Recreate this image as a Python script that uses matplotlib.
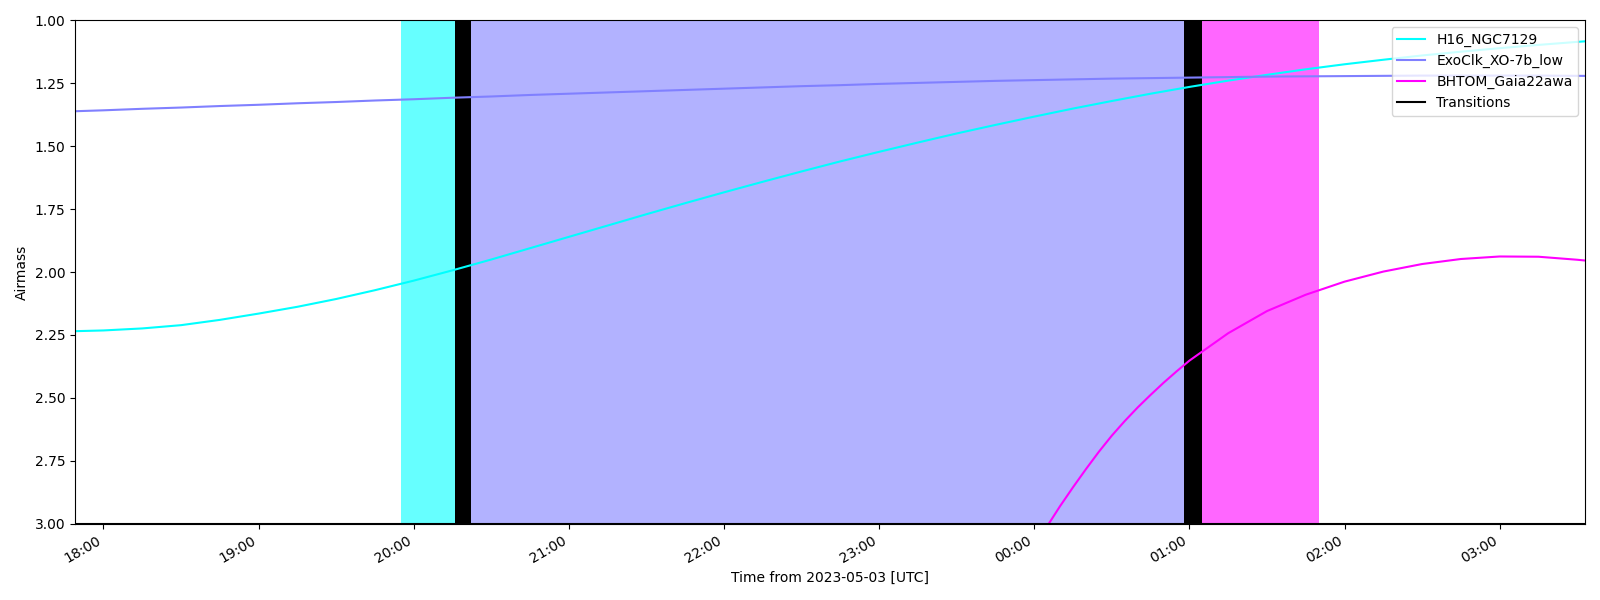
import numpy as np
import pandas as pd
import matplotlib
matplotlib.use("Agg")
import matplotlib.pyplot as plt
import matplotlib.dates as mdates

# 15-minute sampling grid, 2023-05-03 17:45 -> 2023-05-04 03:45 UTC
times = pd.date_range("2023-05-03 17:45", "2023-05-04 03:45", freq="15min")

h16_ngc7129 = [
    2.236, 2.232, 2.224, 2.211, 2.190, 2.165, 2.138, 2.107, 2.072, 2.034,
    1.993, 1.950, 1.905, 1.860, 1.815, 1.770, 1.726, 1.683, 1.641, 1.600,
    1.560, 1.522, 1.485, 1.449, 1.415, 1.382, 1.350, 1.320, 1.291, 1.264,
    1.239, 1.216, 1.194, 1.174, 1.156, 1.139, 1.124, 1.110, 1.097, 1.085,
    1.074,
]
exoclk_xo7b = [
    1.362, 1.357, 1.351, 1.346, 1.340, 1.335, 1.329, 1.324, 1.318, 1.313,
    1.307, 1.302, 1.296, 1.291, 1.286, 1.281, 1.276, 1.271, 1.266, 1.261,
    1.257, 1.252, 1.248, 1.244, 1.240, 1.237, 1.234, 1.231, 1.229, 1.227,
    1.225, 1.223, 1.222, 1.221, 1.220, 1.219, 1.219, 1.219, 1.219, 1.220,
    1.221,
]

# Gaia22awa rises late: 5-min samples while steep, then 15-min
gaia_times = pd.to_datetime([
    "2023-05-04 00:00", "2023-05-04 00:05", "2023-05-04 00:10", "2023-05-04 00:15",
    "2023-05-04 00:20", "2023-05-04 00:25", "2023-05-04 00:30", "2023-05-04 00:35",
    "2023-05-04 00:40", "2023-05-04 00:45", "2023-05-04 00:50", "2023-05-04 00:55",
    "2023-05-04 01:00", "2023-05-04 01:15", "2023-05-04 01:30", "2023-05-04 01:45",
    "2023-05-04 02:00", "2023-05-04 02:15", "2023-05-04 02:30", "2023-05-04 02:45",
    "2023-05-04 03:00", "2023-05-04 03:15", "2023-05-04 03:30", "2023-05-04 03:45",
])
bhtom_gaia22awa = [
    3.10, 3.01, 2.93, 2.855, 2.783, 2.714, 2.650, 2.592, 2.538, 2.488,
    2.440, 2.395, 2.352, 2.243, 2.155, 2.090, 2.038, 1.998, 1.968, 1.948,
    1.938, 1.939, 1.951, 1.966,
]

names = ["H16_NGC7129", "ExoClk_XO-7b_low", "BHTOM_Gaia22awa"]
colors = ["#00ffff", "#8080ff", "#ff00ff"]

# observing blocks (start, end) per target, and transitions between them
blocks = [
    ("2023-05-03 19:55", "2023-05-03 20:16"),
    ("2023-05-03 20:22", "2023-05-04 00:58"),
    ("2023-05-04 01:05", "2023-05-04 01:50"),
]
transitions = [
    ("2023-05-03 20:16", "2023-05-03 20:22"),
    ("2023-05-04 00:58", "2023-05-04 01:05"),
]

fig, ax = plt.subplots(figsize=(16, 6), dpi=100)

for (t0, t1), c in zip(blocks, colors):
    ax.axvspan(pd.Timestamp(t0), pd.Timestamp(t1), color=c, alpha=0.6, lw=0)
for t0, t1 in transitions:
    ax.axvspan(pd.Timestamp(t0), pd.Timestamp(t1), color="black", lw=0)

series = [(times, h16_ngc7129), (times, exoclk_xo7b), (gaia_times, bhtom_gaia22awa)]
for (t, y), name, c in zip(series, names, colors):
    ax.plot(t, y, color=c, label=name)
ax.plot(times, [3.0] * len(times), color="black", label="Transitions")

ax.set_xlim(pd.Timestamp("2023-05-03 17:49"), pd.Timestamp("2023-05-04 03:33"))
ax.set_ylim(3.0, 1.0)
ax.set_yticks(np.arange(1.0, 3.01, 0.25))
ax.yaxis.set_major_formatter(plt.FormatStrFormatter("%.2f"))
ax.xaxis.set_major_locator(mdates.HourLocator())
ax.xaxis.set_major_formatter(mdates.DateFormatter("%H:%M"))
ax.set_xlabel("Time from 2023-05-03 [UTC]")
ax.set_ylabel("Airmass")
ax.legend(loc="upper right")
fig.autofmt_xdate()
plt.tight_layout()
plt.savefig("out.png", dpi=100)
